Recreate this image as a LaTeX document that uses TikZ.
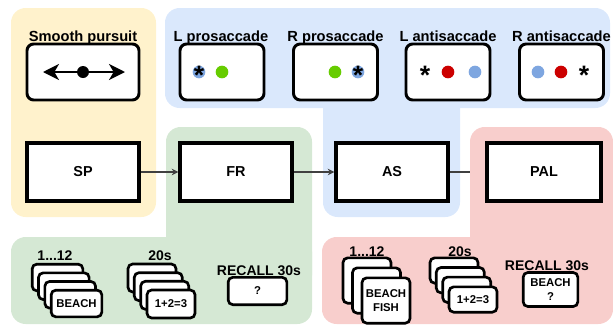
\documentclass[tikz,border=0pt]{standalone}
\usepackage{fontspec}
\setmainfont{Liberation Sans}
\usetikzlibrary{arrows.meta}
\definecolor{yelbg}{HTML}{FFF2CC}
\definecolor{grnbg}{HTML}{D5E8D4}
\definecolor{blubg}{HTML}{DAE8FC}
\definecolor{redbg}{HTML}{F8CECC}
\definecolor{dotgreen}{HTML}{66CC00}
\definecolor{dotred}{HTML}{CC0000}
\definecolor{dotblue}{HTML}{7EA6E0}
\pgfdeclarelayer{bgl}
\pgfdeclarelayer{edgel}
\pgfdeclarelayer{redl}
\pgfsetlayers{bgl,edgel,redl,main}
\tikzset{
  region/.style={rounded corners=11pt},
  phase/.style={draw, line width=2.4pt, fill=white, minimum width=84pt, minimum height=43.5pt, inner sep=0pt, font=\bfseries\fontsize{10.8}{12}\selectfont},
  task/.style={draw, line width=2.2pt, rounded corners=5pt, fill=white, minimum width=63pt, minimum height=42pt, inner sep=0pt},
  tasktitle/.style={anchor=base, inner sep=0pt, font=\bfseries\fontsize{11}{13}\selectfont},
  lbl/.style={anchor=base, inner sep=0pt, font=\bfseries\fontsize{10.5}{12}\selectfont},
  card/.style={draw, line width=2pt, rounded corners=3.5pt, fill=white, inner sep=0pt, font=\bfseries\fontsize{8.5}{10}\selectfont, align=center},
  dot/.style={circle, inner sep=0pt, minimum size=9.5pt},
  star/.style={anchor=base, inner sep=0pt, font=\bfseries\fontsize{20}{20}\selectfont},
  conn/.style={draw=black!75, line width=0.9pt, -{Stealth[length=5pt,width=5pt]}},
  bigtip/.style={line width=1.5pt, {Stealth[length=12pt,width=12pt,inset=3.5pt]}-{Stealth[length=12pt,width=12pt,inset=3.5pt]}},
}
\begin{document}
\begin{tikzpicture}[x=0.75pt,y=-0.75pt]
\useasboundingbox (0,0) rectangle (613,325);
% backgrounds
\begin{pgfonlayer}{bgl}
  \fill[yelbg, region] (11,8) rectangle (156,217);
  \fill[grnbg, region] (166,127) rectangle (312,290);
  \fill[grnbg, region] (11,237) rectangle (312,324);
  \fill[blubg, region] (165,8) rectangle (610,108);
  \fill[blubg, region] (323,50) rectangle (460,217);
\end{pgfonlayer}
\begin{pgfonlayer}{redl}
  \fill[redbg, region] (470,127) rectangle (613,290);
  \fill[redbg, region] (322,237) rectangle (613,324);
\end{pgfonlayer}
% task boxes (top row)
\node[task, minimum width=84pt] (tsp) at (83,72) {};
\node[task] (tlp) at (222,72) {};
\node[task] (trp) at (335.5,72) {};
\node[task] (tla) at (448,72) {};
\node[task] (tra) at (561.5,72) {};
\node[tasktitle] (ttsp) at (83,41) {Smooth pursuit};
\node[tasktitle] (ttlp) at (221,41) {L prosaccade};
\node[tasktitle] (ttrp) at (335.5,41) {R prosaccade};
\node[tasktitle] (ttla) at (448,41) {L antisaccade};
\node[tasktitle] (ttra) at (561.5,41) {R antisaccade};
% smooth pursuit glyph
\coordinate (spl) at (43,72);
\coordinate (spr) at (125,72);
\draw[bigtip] (spl) -- (spr);
\node[dot, fill=black, minimum size=9pt] (spdot) at (83,72) {};
% L prosaccade
\node[dot, fill=dotblue] (lpb) at (199,72) {};
\node[star] (lps) at (199,84) {*};
\node[dot, fill=dotgreen] (lpg) at (222,72) {};
% R prosaccade
\node[dot, fill=dotgreen] (rpg) at (335,72) {};
\node[dot, fill=dotblue] (rpb) at (358,72) {};
\node[star] (rps) at (358,84) {*};
% L antisaccade
\node[star] (las) at (425,84) {*};
\node[dot, fill=dotred] (lar) at (448,72) {};
\node[dot, fill=dotblue] (lab) at (475,72) {};
% R antisaccade
\node[dot, fill=dotblue] (rab) at (538,72) {};
\node[dot, fill=dotred] (rar) at (561,72) {};
\node[star] (ras) at (584,84) {*};
% phases
\node[phase] (sp) at (83,172) {SP};
\node[phase] (fr) at (236,172) {FR};
\node[phase] (as) at (392,172) {AS};
\node[phase, minimum width=85.5pt] (pal) at (544,172) {PAL};
\begin{pgfonlayer}{edgel}
  \draw[conn] (sp) -- (fr);
  \draw[conn] (fr) -- (as);
  \draw[conn] (as) -- (pal);
\end{pgfonlayer}
% FR bottom row
\node[lbl] (fr112) at (55,260) {1...12};
\node[card, minimum width=38pt, minimum height=20pt] (frc1) at (57.5,277.5) {};
\node[card, minimum width=38pt, minimum height=20pt] (frc2) at (63.8,286.2) {};
\node[card, minimum width=38pt, minimum height=20pt] (frc3) at (70.2,294.8) {};
\node[card, minimum width=38pt, minimum height=20pt] (frc4) at (76.5,303.5) {BEACH};
\node[lbl] (fr20) at (160,260) {20s};
\node[card, minimum width=36pt, minimum height=21pt] (frd1) at (152,278) {};
\node[card, minimum width=36pt, minimum height=21pt] (frd2) at (158.3,286.7) {};
\node[card, minimum width=36pt, minimum height=21pt] (frd3) at (164.7,295.3) {};
\node[card, minimum width=36pt, minimum height=21pt] (frd4) at (171,304) {1+2=3};
\node[lbl] (frrec) at (259,275) {RECALL 30s};
\node[card, minimum width=44pt, minimum height=20.5pt] (frrb) at (257.5,291) {?};
% PAL bottom row
\node[lbl] (pal112) at (367,256) {1...12};
\node[card, minimum width=36pt, minimum height=34pt] (pc1) at (367,280.5) {};
\node[card, minimum width=36pt, minimum height=34pt] (pc2) at (376.5,290.5) {};
\node[card, minimum width=36pt, minimum height=34pt] (pc3) at (386,300.5) {BEACH\\FISH};
\node[lbl] (pal20) at (460,256) {20s};
\node[card, minimum width=36pt, minimum height=19pt] (pd1) at (454,270.5) {};
\node[card, minimum width=36pt, minimum height=19pt] (pd2) at (460.3,280.2) {};
\node[card, minimum width=36pt, minimum height=19pt] (pd3) at (466.7,289.8) {};
\node[card, minimum width=36pt, minimum height=19pt] (pd4) at (473,299.5) {1+2=3};
\node[lbl] (palrec) at (547,270) {RECALL 30s};
\node[card, minimum width=41pt, minimum height=25.5pt] (palrb) at (550.5,289.5) {BEACH\\?};
\end{tikzpicture}
\end{document}
